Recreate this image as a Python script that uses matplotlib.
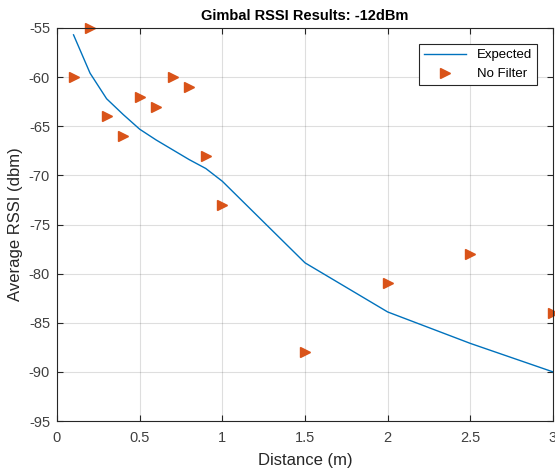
import numpy as np
import matplotlib
matplotlib.use('Agg')
from matplotlib import pyplot as plt

plt.rcParams['font.family'] = ['Liberation Sans', 'DejaVu Sans']
plt.rcParams['axes.unicode_minus'] = False  # 用连字符做负号，和原图一致

# 期望曲线
dist_expected = [0.1, 0.2, 0.3, 0.4, 0.5, 0.6, 0.7, 0.8, 0.9, 1.0, 1.5, 2.0, 2.5, 3.0]
rssi_expected = [-55.7, -59.6, -62.2, -63.8, -65.3, -66.4, -67.4, -68.4, -69.3, -70.6,
                 -78.9, -83.9, -87.1, -90.0]

# 无滤波测量值
dist_meas = [0.1, 0.2, 0.3, 0.4, 0.5, 0.6, 0.7, 0.8, 0.9, 1.0, 1.5, 2.0, 2.5, 3.0]
rssi_nofilter = [-60, -55, -64, -66, -62, -63, -60, -61, -68, -73, -88, -81, -78, -84]

x_ticks = [0, 0.5, 1, 1.5, 2, 2.5, 3]
x_ticklabels = ['0', '0.5', '1', '1.5', '2', '2.5', '3']
y_ticks = [-95, -90, -85, -80, -75, -70, -65, -60, -55]

fig = plt.figure(figsize=(5.55, 4.72), dpi=100)
ax = fig.add_axes([0.1027, 0.108, 0.8937, 0.8327])

ax.plot(dist_expected, rssi_expected, color='#0072BD', lw=1.0, label='Expected')
ax.plot(dist_meas, rssi_nofilter, linestyle='none', marker='>', ms=7,
        color='#D95319', label='No Filter', clip_on=False)

ax.set_xlim(0, 3)
ax.set_ylim(-95, -55)
ax.set_xticks(x_ticks)
ax.set_xticklabels(x_ticklabels)
ax.set_yticks(y_ticks)
ax.grid(True, color='#262626', alpha=0.15, lw=0.8)
ax.set_axisbelow(True)

for s in ax.spines.values():
    s.set_color('#262626')
    s.set_linewidth(0.8)
ax.tick_params(direction='in', top=True, right=True, length=4,
               colors='#262626', labelsize=10.5, labelcolor='#404040')
ax.tick_params(axis='x', pad=7)
ax.tick_params(axis='y', pad=5)

ax.set_xlabel('Distance (m)', fontsize=12, color='#262626', labelpad=6)
ax.set_ylabel('Average RSSI (dbm)', fontsize=12, color='#262626', labelpad=4)
ax.set_title('Gimbal RSSI Results: -12dBm', fontsize=10.5, fontweight='bold', pad=6)

leg = ax.legend(loc='upper right', fontsize=9.5, fancybox=False, framealpha=1,
                edgecolor='#262626', borderaxespad=1.2, handlelength=3.2)
leg.get_frame().set_linewidth(0.8)

fig.savefig('out.png', dpi=100)
